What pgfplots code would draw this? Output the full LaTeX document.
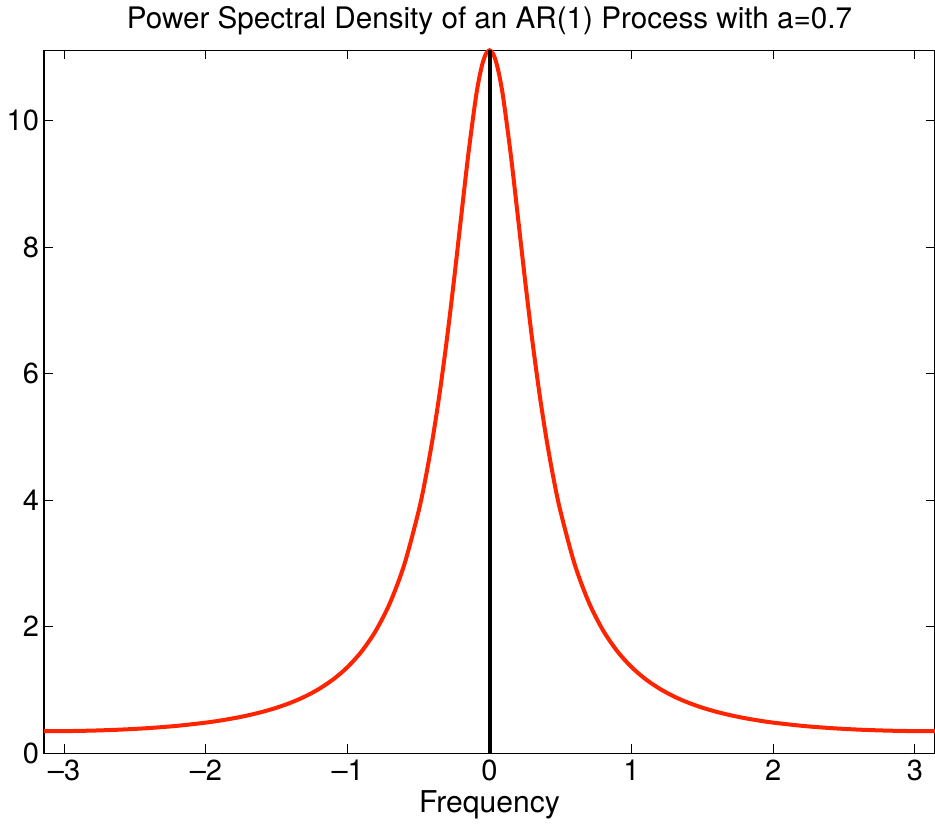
\documentclass[border=0pt]{standalone}
\usepackage{fontspec}
\setmainfont{TeX Gyre Heros}
\usepackage{pgfplots}
\pgfplotsset{compat=1.18}
\definecolor{psdred}{RGB}{255,36,0}

\begin{document}
\begin{tikzpicture}[trim axis right]
\begin{axis}[
    scale only axis,
    width=445pt, height=351pt,
    xmin=-3.1416, xmax=3.1416,
    ymin=0, ymax=11.111,
    xtick={-3,-2,-1,0,1,2,3},
    xticklabels={\textendash3,\textendash2,\textendash1,0,1,2,3},
    ytick={0,2,4,6,8,10},
    tick align=inside,
    major tick length=4.5pt,
    tick style={black, line width=0.5pt},
    axis line style={line width=0.6pt},
    ticklabel style={font=\fontsize{14.5}{16}\selectfont},
    /pgf/number format/assume math mode=true,
    xlabel={Frequency},
    xlabel style={font=\fontsize{15}{16}\selectfont, yshift=2pt},
    title={Power Spectral Density of an AR(1) Process with a=0.7},
    title style={font=\fontsize{14.8}{16}\selectfont, yshift=-2pt},
    yticklabel style={xshift=1pt},
    clip=false,
]
% S(w) of the AR(1) process
\addplot[psdred, line width=2pt, smooth] coordinates {
(-3.1416,0.3460) (-3.0,0.3477) (-2.8,0.3560) (-2.6,0.3718) (-2.4,0.3965)
(-2.2,0.4322) (-2.0,0.4825) (-1.9,0.5148) (-1.8,0.5531) (-1.7,0.5987)
(-1.6,0.6532) (-1.5,0.7189) (-1.4,0.7987) (-1.3,0.8965) (-1.2,1.018)
(-1.1,1.170) (-1.0,1.363) (-0.9,1.614) (-0.8,1.943) (-0.7,2.385)
(-0.6,2.989) (-0.5,3.826) (-0.45,4.360) (-0.4,4.987) (-0.35,5.718)
(-0.3,6.556) (-0.25,7.489) (-0.2,8.481) (-0.15,9.459) (-0.1,10.310)
(-0.075,10.646) (-0.05,10.899) (-0.025,11.057) (0,11.111)
(0.025,11.057) (0.05,10.899) (0.075,10.646) (0.1,10.310) (0.15,9.459)
(0.2,8.481) (0.25,7.489) (0.3,6.556) (0.35,5.718) (0.4,4.987)
(0.45,4.360) (0.5,3.826) (0.6,2.989) (0.7,2.385) (0.8,1.943)
(0.9,1.614) (1.0,1.363) (1.1,1.170) (1.2,1.018) (1.3,0.8965)
(1.4,0.7987) (1.5,0.7189) (1.6,0.6532) (1.7,0.5987) (1.8,0.5531)
(1.9,0.5148) (2.0,0.4825) (2.2,0.4322) (2.4,0.3965) (2.6,0.3718)
(2.8,0.3560) (3.0,0.3477) (3.1416,0.3460)
};
% vertical marker at zero frequency
\addplot[black, line width=2pt] coordinates {(0,0) (0,11.111)};
\end{axis}
\end{tikzpicture}
\end{document}
